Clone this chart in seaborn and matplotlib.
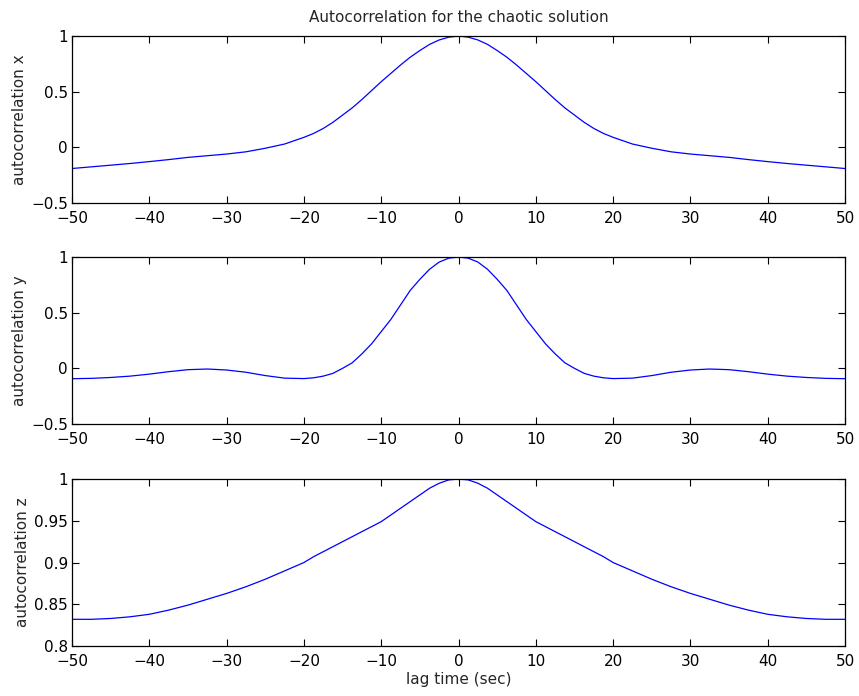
import seaborn as sns
import matplotlib
matplotlib.use('Agg')
import matplotlib.pyplot as plt
from matplotlib.ticker import FuncFormatter
import pandas as pd

# lag times (sec)
lag = [-50, -47.5, -45, -42.5, -40, -37.5, -35, -32.5, -30, -27.5, -25, -22.5, -20,
       -18.75, -17.5, -16.25, -15, -13.75, -12.5, -11.25, -10, -8.75, -7.5, -6.25, -5, -3.75, -2.5, -1.25,
       0, 1.25, 2.5, 3.75, 5, 6.25, 7.5, 8.75, 10, 11.25, 12.5, 13.75, 15, 16.25, 17.5, 18.75,
       20, 22.5, 25, 27.5, 30, 32.5, 35, 37.5, 40, 42.5, 45, 47.5, 50]

# autocorrelation values
acf_x = [-0.19, -0.175, -0.16, -0.145, -0.128, -0.11, -0.09, -0.075, -0.06, -0.04, -0.008, 0.03, 0.09,
         0.125, 0.17, 0.225, 0.29, 0.355, 0.43, 0.51, 0.59, 0.665, 0.74, 0.81, 0.87, 0.925, 0.965, 0.99,
         1.0, 0.99, 0.965, 0.925, 0.87, 0.81, 0.74, 0.665, 0.59, 0.51, 0.43, 0.355, 0.29, 0.225, 0.17, 0.125,
         0.09, 0.03, -0.008, -0.04, -0.06, -0.075, -0.09, -0.11, -0.128, -0.145, -0.16, -0.175, -0.19]
acf_y = [-0.093, -0.09, -0.082, -0.07, -0.052, -0.03, -0.012, -0.006, -0.015, -0.035, -0.065, -0.088, -0.092,
         -0.085, -0.07, -0.045, 0.0, 0.05, 0.13, 0.22, 0.33, 0.44, 0.57, 0.70, 0.80, 0.89, 0.955, 0.99,
         1.0, 0.99, 0.955, 0.89, 0.80, 0.70, 0.57, 0.44, 0.33, 0.22, 0.13, 0.05, 0.0, -0.045, -0.07, -0.085,
         -0.092, -0.088, -0.065, -0.035, -0.015, -0.006, -0.012, -0.03, -0.052, -0.07, -0.082, -0.09, -0.093]
acf_z = [0.832, 0.832, 0.833, 0.835, 0.838, 0.843, 0.849, 0.856, 0.863, 0.871, 0.88, 0.89, 0.90,
         0.907, 0.913, 0.919, 0.925, 0.931, 0.937, 0.943, 0.949, 0.957, 0.965, 0.973, 0.981, 0.989, 0.995, 0.999,
         1.0, 0.999, 0.995, 0.989, 0.981, 0.973, 0.965, 0.957, 0.949, 0.943, 0.937, 0.931, 0.925, 0.919, 0.913, 0.907,
         0.90, 0.89, 0.88, 0.871, 0.863, 0.856, 0.849, 0.843, 0.838, 0.835, 0.833, 0.832, 0.832]

df = pd.DataFrame({'lag': lag, 'x': acf_x, 'y': acf_y, 'z': acf_z})

sns.set_style('ticks')
plt.rcParams['font.family'] = ['DejaVu Sans']
plt.rcParams['font.size'] = 11

fig = plt.figure(figsize=(8.59, 6.96), dpi=100)
boxes = [0.7083, 0.3908, 0.0718]
h = 0.2399
cols = ['x', 'y', 'z']
ylims = [(-0.5, 1), (-0.5, 1), (0.8, 1)]
yticks = [[-0.5, 0, 0.5, 1], [-0.5, 0, 0.5, 1], [0.8, 0.85, 0.9, 0.95, 1]]

fmt = FuncFormatter(lambda v, p: ('%g' % v).replace('-', '\u2212'))

for b, c, yl, yt in zip(boxes, cols, ylims, yticks):
    ax = fig.add_axes([0.0838, b, 0.9, h])
    sns.lineplot(data=df, x='lag', y=c, color='#0000ff', linewidth=0.9, ax=ax)
    ax.set_xlim(-50, 50)
    ax.set_ylim(*yl)
    ax.set_xticks(range(-50, 51, 10))
    ax.set_yticks(yt)
    ax.xaxis.set_major_formatter(fmt)
    ax.yaxis.set_major_formatter(fmt)
    ax.tick_params(direction='in', top=True, right=True, length=5, width=0.8,
                   labelsize=11, colors='black')
    ax.tick_params(axis='y', pad=3)
    ax.tick_params(axis='x', pad=6)
    for s in ax.spines.values():
        s.set_linewidth(0.9)
        s.set_color('black')
    ax.set_ylabel('autocorrelation ' + c, fontsize=11, labelpad=3)
    ax.set_xlabel('')
    if c == 'x':
        ax.set_title('Autocorrelation for the chaotic solution', fontsize=11, pad=10)
    if c == 'z':
        ax.set_xlabel('lag time (sec)', fontsize=11, labelpad=2)

fig.savefig('out.png', dpi=100)
